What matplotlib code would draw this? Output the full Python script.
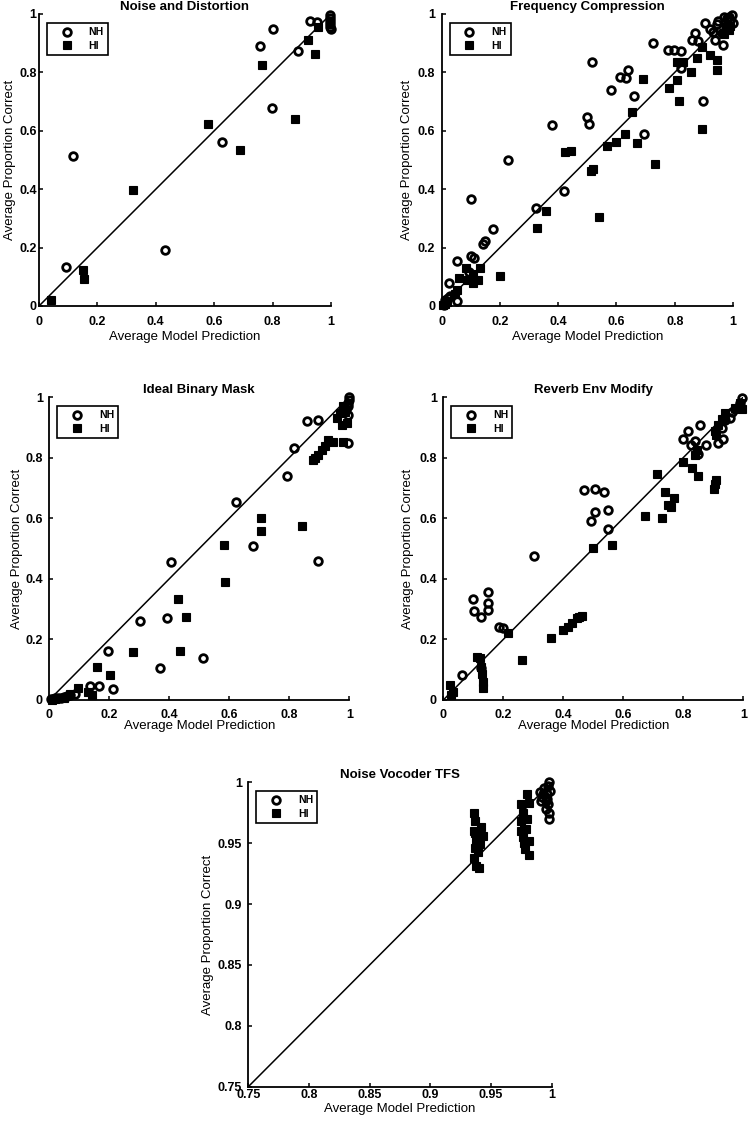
import matplotlib
matplotlib.use('Agg')
import matplotlib.pyplot as plt

plt.rcParams['font.family'] = ['Liberation Sans', 'DejaVu Sans']

# ---- data ----
# Noise and Distortion
nd_nh_x = [0.117, 0.094, 0.431, 0.625, 0.757, 0.800, 0.799, 0.888, 0.928, 0.952,
           0.997, 0.997, 0.997, 0.998, 0.998, 0.999]
nd_nh_y = [0.513, 0.134, 0.191, 0.562, 0.891, 0.947, 0.677, 0.874, 0.977, 0.972,
           0.995, 0.985, 0.975, 0.965, 0.955, 0.950]
nd_hi_x = [0.042, 0.151, 0.153, 0.322, 0.579, 0.688, 0.762, 0.877, 0.922, 0.945, 0.957, 0.995]
nd_hi_y = [0.019, 0.125, 0.094, 0.397, 0.622, 0.534, 0.824, 0.640, 0.911, 0.862, 0.957, 0.975]

# Frequency Compression
fc_nh_x = [0.008, 0.015, 0.022, 0.030, 0.012, 0.025, 0.051, 0.054, 0.100, 0.100, 0.112, 0.095,
           0.143, 0.149, 0.175, 0.229, 0.323, 0.379, 0.419, 0.498, 0.507, 0.515, 0.581, 0.612,
           0.633, 0.641, 0.661, 0.696, 0.726, 0.778, 0.797, 0.820, 0.820, 0.896, 0.870, 0.904,
           0.858, 0.881, 0.944, 0.961, 0.967, 0.978, 0.995, 1.000, 0.938, 0.920, 0.950, 0.970,
           0.985, 0.990, 0.930]
fc_nh_y = [0.005, 0.015, 0.028, 0.035, 0.022, 0.080, 0.018, 0.155, 0.365, 0.172, 0.163, 0.115,
           0.212, 0.223, 0.264, 0.500, 0.335, 0.620, 0.394, 0.648, 0.622, 0.835, 0.740, 0.785,
           0.780, 0.808, 0.718, 0.588, 0.902, 0.877, 0.877, 0.874, 0.814, 0.702, 0.934, 0.970,
           0.911, 0.909, 0.966, 0.934, 0.894, 0.985, 0.997, 0.968, 0.911, 0.950, 0.975, 0.990,
           0.990, 0.980, 0.940]
fc_hi_x = [0.005, 0.012, 0.018, 0.046, 0.051, 0.060, 0.082, 0.086, 0.106, 0.109, 0.126, 0.131,
           0.200, 0.328, 0.357, 0.423, 0.443, 0.511, 0.520, 0.540, 0.566, 0.597, 0.629, 0.654,
           0.672, 0.692, 0.732, 0.779, 0.809, 0.809, 0.829, 0.815, 0.856, 0.875, 0.893, 0.895,
           0.921, 0.944, 0.946, 0.970, 0.975, 0.985, 0.990]
fc_hi_y = [0.002, 0.008, 0.012, 0.041, 0.055, 0.097, 0.129, 0.089, 0.080, 0.108, 0.089, 0.131,
           0.104, 0.268, 0.326, 0.528, 0.531, 0.463, 0.469, 0.304, 0.549, 0.561, 0.588, 0.665,
           0.557, 0.776, 0.486, 0.748, 0.774, 0.835, 0.835, 0.702, 0.803, 0.848, 0.888, 0.605,
           0.860, 0.842, 0.808, 0.930, 0.955, 0.945, 0.960]

# Ideal Binary Mask
ibm_nh_x = [0.005, 0.012, 0.020, 0.030, 0.040, 0.050, 0.060, 0.070, 0.085, 0.136, 0.167, 0.197,
            0.213, 0.302, 0.369, 0.393, 0.404, 0.513, 0.622, 0.678, 0.793, 0.816, 0.858, 0.897,
            0.897, 0.997, 0.997, 0.995, 0.997, 0.998, 0.999, 0.990]
ibm_nh_y = [0.002, 0.004, 0.006, 0.005, 0.008, 0.010, 0.012, 0.015, 0.020, 0.046, 0.046, 0.162,
            0.036, 0.262, 0.107, 0.270, 0.454, 0.140, 0.652, 0.507, 0.740, 0.831, 0.920, 0.925,
            0.460, 0.848, 0.942, 0.970, 0.980, 0.990, 1.000, 0.960]
ibm_hi_x = [0.010, 0.020, 0.030, 0.050, 0.069, 0.097, 0.130, 0.141, 0.158, 0.202, 0.280, 0.428,
            0.436, 0.456, 0.582, 0.586, 0.704, 0.704, 0.841, 0.878, 0.886, 0.897, 0.908, 0.919,
            0.930, 0.947, 0.980, 0.974, 0.991, 0.969, 0.980, 0.960, 0.985]
ibm_hi_y = [0.000, 0.003, 0.005, 0.008, 0.020, 0.039, 0.028, 0.017, 0.110, 0.083, 0.160, 0.333,
            0.162, 0.273, 0.512, 0.388, 0.602, 0.558, 0.575, 0.791, 0.798, 0.809, 0.826, 0.839,
            0.859, 0.850, 0.853, 0.909, 0.914, 0.947, 0.969, 0.930, 0.950]

# Reverb Env Modify
rev_nh_x = [0.061, 0.098, 0.103, 0.126, 0.150, 0.150, 0.150, 0.186, 0.200, 0.303, 0.470, 0.506,
            0.537, 0.506, 0.492, 0.550, 0.550, 0.800, 0.817, 0.856, 0.839, 0.826, 0.876, 0.850,
            0.914, 0.933, 0.956, 0.972, 0.989, 0.994, 0.928, 0.939, 0.961, 0.125]
rev_nh_y = [0.083, 0.333, 0.295, 0.273, 0.358, 0.319, 0.297, 0.240, 0.237, 0.476, 0.692, 0.697,
            0.685, 0.622, 0.591, 0.628, 0.565, 0.861, 0.889, 0.909, 0.854, 0.843, 0.843, 0.813,
            0.848, 0.861, 0.930, 0.960, 0.980, 0.997, 0.897, 0.925, 0.952, 0.105]
rev_hi_x = [0.022, 0.026, 0.033, 0.111, 0.122, 0.126, 0.130, 0.131, 0.131, 0.217, 0.261, 0.359,
            0.400, 0.414, 0.428, 0.444, 0.453, 0.463, 0.500, 0.561, 0.672, 0.711, 0.730, 0.739,
            0.748, 0.759, 0.770, 0.800, 0.828, 0.848, 0.903, 0.905, 0.908, 0.906, 0.917, 0.928,
            0.939, 0.972, 0.989, 0.994, 0.908, 0.845, 0.840]
rev_hi_y = [0.050, 0.017, 0.028, 0.141, 0.138, 0.110, 0.086, 0.061, 0.039, 0.220, 0.132, 0.204,
            0.231, 0.240, 0.253, 0.270, 0.273, 0.278, 0.501, 0.510, 0.606, 0.747, 0.602, 0.686,
            0.644, 0.637, 0.667, 0.787, 0.765, 0.738, 0.696, 0.713, 0.727, 0.889, 0.909, 0.927,
            0.947, 0.963, 0.980, 0.960, 0.875, 0.826, 0.810]

# Noise Vocoder TFS
tfs_nh_x = [0.990, 0.992, 0.994, 0.995, 0.996, 0.997, 0.998, 0.999, 0.997, 0.995, 0.993, 0.996,
            0.998, 0.998, 0.991]
tfs_nh_y = [0.992, 0.988, 0.995, 0.985, 0.990, 0.997, 1.000, 0.993, 0.982, 0.978, 0.990, 0.986,
            0.975, 0.970, 0.985]
tfs_hi_x = [0.936, 0.937, 0.936, 0.938, 0.937, 0.936, 0.938, 0.940, 0.942, 0.943, 0.941, 0.939,
            0.937, 0.975, 0.976, 0.975, 0.977, 0.976, 0.975, 0.977, 0.980, 0.981, 0.980, 0.979,
            0.981, 0.978, 0.981]
tfs_hi_y = [0.975, 0.968, 0.960, 0.953, 0.946, 0.938, 0.931, 0.930, 0.963, 0.956, 0.949, 0.943,
            0.958, 0.982, 0.975, 0.968, 0.962, 0.955, 0.960, 0.950, 0.990, 0.983, 0.970, 0.962,
            0.952, 0.945, 0.940]

titles = ['Noise and Distortion', 'Frequency Compression', 'Ideal Binary Mask',
          'Reverb Env Modify', 'Noise Vocoder TFS']
ticks_full = [0, 0.2, 0.4, 0.6, 0.8, 1]
ticklabels_full = ['0', '0.2', '0.4', '0.6', '0.8', '1']
ticks_zoom = [0.75, 0.8, 0.85, 0.9, 0.95, 1]
ticklabels_zoom = ['0.75', '0.8', '0.85', '0.9', '0.95', '1']

panels = [
    (nd_nh_x, nd_nh_y, nd_hi_x, nd_hi_y),
    (fc_nh_x, fc_nh_y, fc_hi_x, fc_hi_y),
    (ibm_nh_x, ibm_nh_y, ibm_hi_x, ibm_hi_y),
    (rev_nh_x, rev_nh_y, rev_hi_x, rev_hi_y),
    (tfs_nh_x, tfs_nh_y, tfs_hi_x, tfs_hi_y),
]

# axes boxes in pixels: left, top, right, bottom
W, H = 750, 1127
boxes = [(39, 14, 331, 306), (441.7, 14, 733, 306), (49.3, 397, 349.3, 700),
         (443.3, 397, 743.3, 700), (248.3, 782.3, 551.7, 1086.7)]
# per panel: x tick pad, y tick pad (pt), xlabel / ylabel offsets from the axes (px)
xpads = [7.4, 7.4, 6.2, 6.2, 1.7]
ypads = [1.7, 4.7, 4.7, 4.7, 4.7]
xlab_off = [31, 31, 26, 26, 22]
ylab_off = [29, 35, 32.6, 35, 40]

fig = plt.figure(figsize=(W / 100, H / 100), dpi=100)

for i, (nhx, nhy, hix, hiy) in enumerate(panels):
    l, t, r, b = boxes[i]
    w, h = r - l, b - t
    ax = fig.add_axes([l / W, 1 - b / H, w / W, h / H])
    if i == 4:
        lo, ticks, labels = 0.75, ticks_zoom, ticklabels_zoom
    else:
        lo, ticks, labels = 0, ticks_full, ticklabels_full

    ax.plot([lo, 1], [lo, 1], color='black', lw=1.1, zorder=1)
    ax.plot(nhx, nhy, 'o', ms=5.5, mfc='none', mec='black', mew=2.0,
            label='NH', clip_on=False, zorder=2)
    ax.plot(hix, hiy, 's', ms=6.2, mfc='black', mec='black', mew=0.8,
            label='HI', clip_on=False, zorder=3)

    ax.set_xlim(lo, 1)
    ax.set_ylim(lo, 1)
    ax.set_xticks(ticks)
    ax.set_xticklabels(labels)
    ax.set_yticks(ticks)
    ax.set_yticklabels(labels)
    for s in ['top', 'right']:
        ax.spines[s].set_visible(False)
    for s in ['left', 'bottom']:
        ax.spines[s].set_linewidth(1.3)
    ax.tick_params(direction='in', length=3, width=1.1, labelsize=9)
    ax.tick_params(axis='x', pad=xpads[i])
    ax.tick_params(axis='y', pad=ypads[i])
    for lab in ax.get_xticklabels() + ax.get_yticklabels():
        lab.set_fontweight('bold')

    ax.set_title(titles[i], fontsize=9.5, fontweight='bold', pad=3)
    ax.set_xlabel('Average Model Prediction', fontsize=9.5, va='center')
    ax.set_ylabel('Average Proportion Correct', fontsize=9.5, va='center')
    ax.xaxis.set_label_coords(0.5, -xlab_off[i] / h)
    ax.yaxis.set_label_coords(-ylab_off[i] / w, 0.5)

    leg = ax.legend(loc='upper left', bbox_to_anchor=(8 / w, 1 - 9 / h),
                    borderaxespad=0, fancybox=False, framealpha=1, edgecolor='black',
                    prop={'size': 7.5, 'weight': 'bold'}, handlelength=3.0,
                    handletextpad=0.6, borderpad=0.4, labelspacing=0.35)
    leg.get_frame().set_linewidth(1.2)

plt.savefig('out.png', dpi=100)
plt.close()
